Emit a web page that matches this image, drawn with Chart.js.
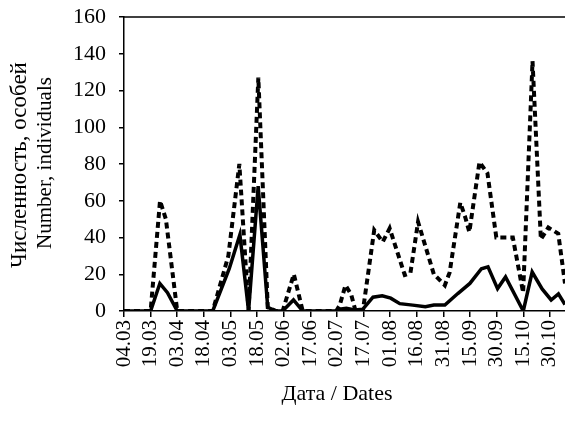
<!DOCTYPE html>
<html>
<head>
<meta charset="utf-8">
<script src="https://cdn.jsdelivr.net/npm/chart.js@4"></script>
<style>
html,body{margin:0;padding:0;background:#fff;}
#wrap{width:565px;height:430px;}
</style>
</head>
<body>
<div id="wrap"><canvas id="c" width="565" height="430"></canvas></div>
<script>
// Tick labels (dates, every 15 days from 04.03) and their day offsets
const tickLabels = ['04.03','19.03','03.04','18.04','03.05','18.05','02.06','17.06','02.07','17.07','01.08','16.08','31.08','15.09','30.09','15.10','30.10'];
const tickDays = [0,15,30,45,60,75,90,105,120,135,150,165,180,195,210,225,240];

// Solid series: day offset from 04.03 and number of individuals
const solidDays = [0,15,20.2,24.5,30,50,59.3,65.3,70.2,75.6,81,85.7,89.4,95.5,100.7,119.6,121.5,125.3,130,134.6,140.3,145.5,150.3,155.4,162.7,169.8,174.6,180.8,188.1,194.9,201.4,205.1,210.5,215,225,230,235.6,240.7,244.8,248.5];
const solidValues = [0,0,15,10,0,0,23,41.5,0,68,2,0,0,6,0,0,1,1.5,0.5,1,7.5,8.3,7,4,3.2,2.3,3.2,3.2,9.5,15,23,24,12.2,18.5,0,21.2,12,6,9.3,3.5];

// Dotted series
const dottedDays = [0,15,20.3,23.6,30,50,58.8,65,70.2,75.7,81,85.7,89.4,95.7,100.7,119.6,121.5,124.8,128,130.5,134.6,141,145.8,149.7,158.2,161.4,165.7,174.6,180.8,183.5,189.5,192.3,194.6,200.3,204.8,209.8,219.1,224.9,230.2,234.9,239.1,244.7,248.5];
const dottedValues = [0,0,60,50,0,0,30,80,0,127,2,0,0,20,0,0,3,14,9,0,0,44,37.6,45,19.6,20.7,48.5,20,14,21,59,51,43,81,75,40,40,10,136,39,45.4,42.1,15];

const yMin = 0, yMax = 160, yStep = 20;
const xMin = 0, xMax = 248.5;

const yTitleRu = 'Численность, особей';
const yTitleEn = 'Number, individuals';
const xTitle = 'Дата / Dates';

const FONT = '"Liberation Serif", "Times New Roman", serif';
Chart.defaults.font.family = FONT;
Chart.defaults.color = '#000';

const toPoints = (xs, ys) => xs.map((x, i) => ({x: x, y: ys[i]}));

const titlesPlugin = {
  id: 'titles',
  afterDraw(chart) {
    const {ctx, chartArea} = chart;
    ctx.save();
    // top frame line
    ctx.strokeStyle = '#000';
    ctx.lineWidth = 1.5;
    ctx.beginPath();
    ctx.moveTo(chartArea.left, chartArea.top);
    ctx.lineTo(chartArea.right, chartArea.top);
    ctx.stroke();
    // y titles
    const cy = (chartArea.top + chartArea.bottom) / 2 + 1;
    ctx.fillStyle = '#000';
    ctx.textAlign = 'center';
    ctx.textBaseline = 'middle';
    ctx.save();
    ctx.translate(20, cy);
    ctx.rotate(-Math.PI / 2);
    ctx.font = '23px ' + FONT;
    ctx.fillText(yTitleRu, 0, 0);
    ctx.restore();
    ctx.save();
    ctx.translate(45, cy - 2);
    ctx.rotate(-Math.PI / 2);
    ctx.font = '21px ' + FONT;
    ctx.fillText(yTitleEn, 0, 0);
    ctx.restore();
    // x title
    ctx.font = '22px ' + FONT;
    ctx.fillText(xTitle, 337, 394);
    ctx.restore();
  }
};

new Chart(document.getElementById('c'), {
  type: 'line',
  data: {
    datasets: [
      {
        data: toPoints(solidDays, solidValues),
        borderColor: '#000',
        borderWidth: 3.5,
        pointRadius: 0,
        tension: 0,
        fill: false,
        borderJoinStyle: 'miter'
      },
      {
        data: toPoints(dottedDays, dottedValues),
        borderColor: '#000',
        borderWidth: 4,
        borderDash: [6, 4],
        pointRadius: 0,
        tension: 0,
        fill: false
      }
    ]
  },
  options: {
    responsive: false,
    animation: false,
    devicePixelRatio: 1,
    layout: {padding: {top: 17, right: 0, left: 0, bottom: 0}},
    plugins: {legend: {display: false}, tooltip: {enabled: false}},
    scales: {
      x: {
        type: 'linear',
        min: xMin,
        max: xMax,
        afterBuildTicks: s => { s.ticks = tickDays.map(v => ({value: v})); },
        afterFit: s => { s.height = 119; s.paddingLeft = 0; s.paddingRight = 0; },
        ticks: {
          autoSkip: false,
          minRotation: 90,
          maxRotation: 90,
          padding: 3,
          font: {size: 21},
          color: '#000',
          callback: (v) => tickLabels[tickDays.indexOf(v)]
        },
        grid: {drawOnChartArea: false, drawTicks: true, tickLength: 6, color: '#000', lineWidth: 1.5},
        border: {display: true, color: '#000', width: 1.5}
      },
      y: {
        min: yMin,
        max: yMax,
        afterFit: s => { s.width = 124; s.paddingTop = 0; s.paddingBottom = 0; },
        ticks: {stepSize: yStep, padding: 13, font: {size: 22}, color: '#000'},
        grid: {drawOnChartArea: false, drawTicks: true, tickLength: 5, color: '#000', lineWidth: 1.5},
        border: {display: true, color: '#000', width: 1.5}
      }
    }
  },
  plugins: [titlesPlugin]
});
</script>
</body>
</html>
